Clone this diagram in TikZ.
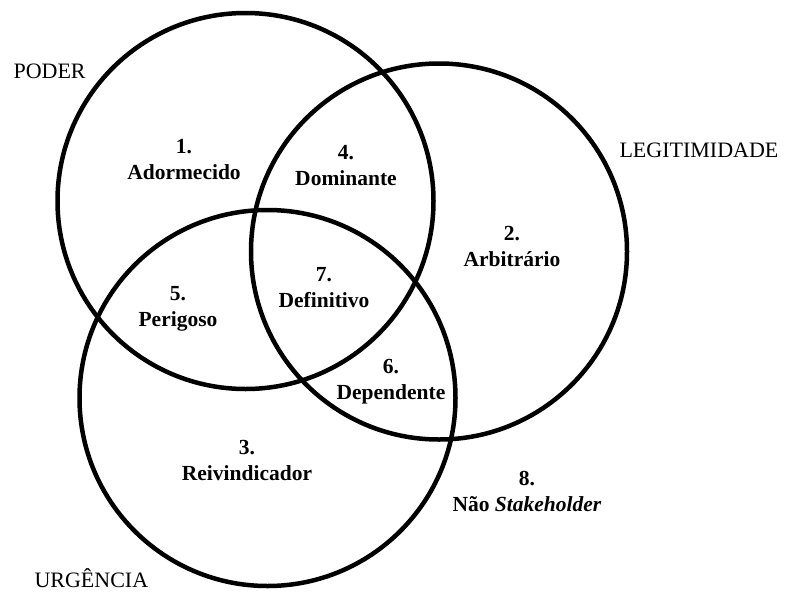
\documentclass[tikz,border=0pt]{standalone}
\usepackage{fontspec}
\setmainfont{Liberation Serif}

\begin{document}
\begin{tikzpicture}[x=1pt,y=-1pt]
  \tikzstyle{ring}=[circle,draw,line width=4.5pt,minimum size=376pt,inner sep=0pt]
  \tikzstyle{kind}=[align=center,font=\fontsize{21.5}{26}\selectfont\bfseries]
  \tikzstyle{attr}=[anchor=west,font=\fontsize{22}{26}\selectfont]
  \useasboundingbox (0,0) rectangle (787,592);

  \node[ring] (poder) at (245.5,201) {};
  \node[ring] (legit) at (439,251.5) {};
  \node[ring] (urg)   at (267.5,398) {};

  \node[attr] (poder_t) at (10,71)  {PODER};
  \node[attr] (legit_t) at (616,150) {LEGITIMIDADE};
  \node[attr] (urg_t)   at (31,578) {URGÊNCIA};

  \node[kind] (K_1) at (184,160) {1.\\Adormecido};
  \node[kind] (K_2) at (512,246) {2.\\Arbitrário};
  \node[kind] (K_3) at (247,460) {3.\\Reivindicador};
  \node[kind] (K_4) at (346,166) {4.\\Dominante};
  \node[kind] (K_5) at (178,309) {5.\\Perigoso};
  \node[kind] (K_6) at (391,382) {6.\\Dependente};
  \node[kind] (K_7) at (324,288) {7.\\Definitivo};
  \node[kind] (K_8) at (527,491) {8.\\Não \textit{Stakeholder}};
\end{tikzpicture}
\end{document}
